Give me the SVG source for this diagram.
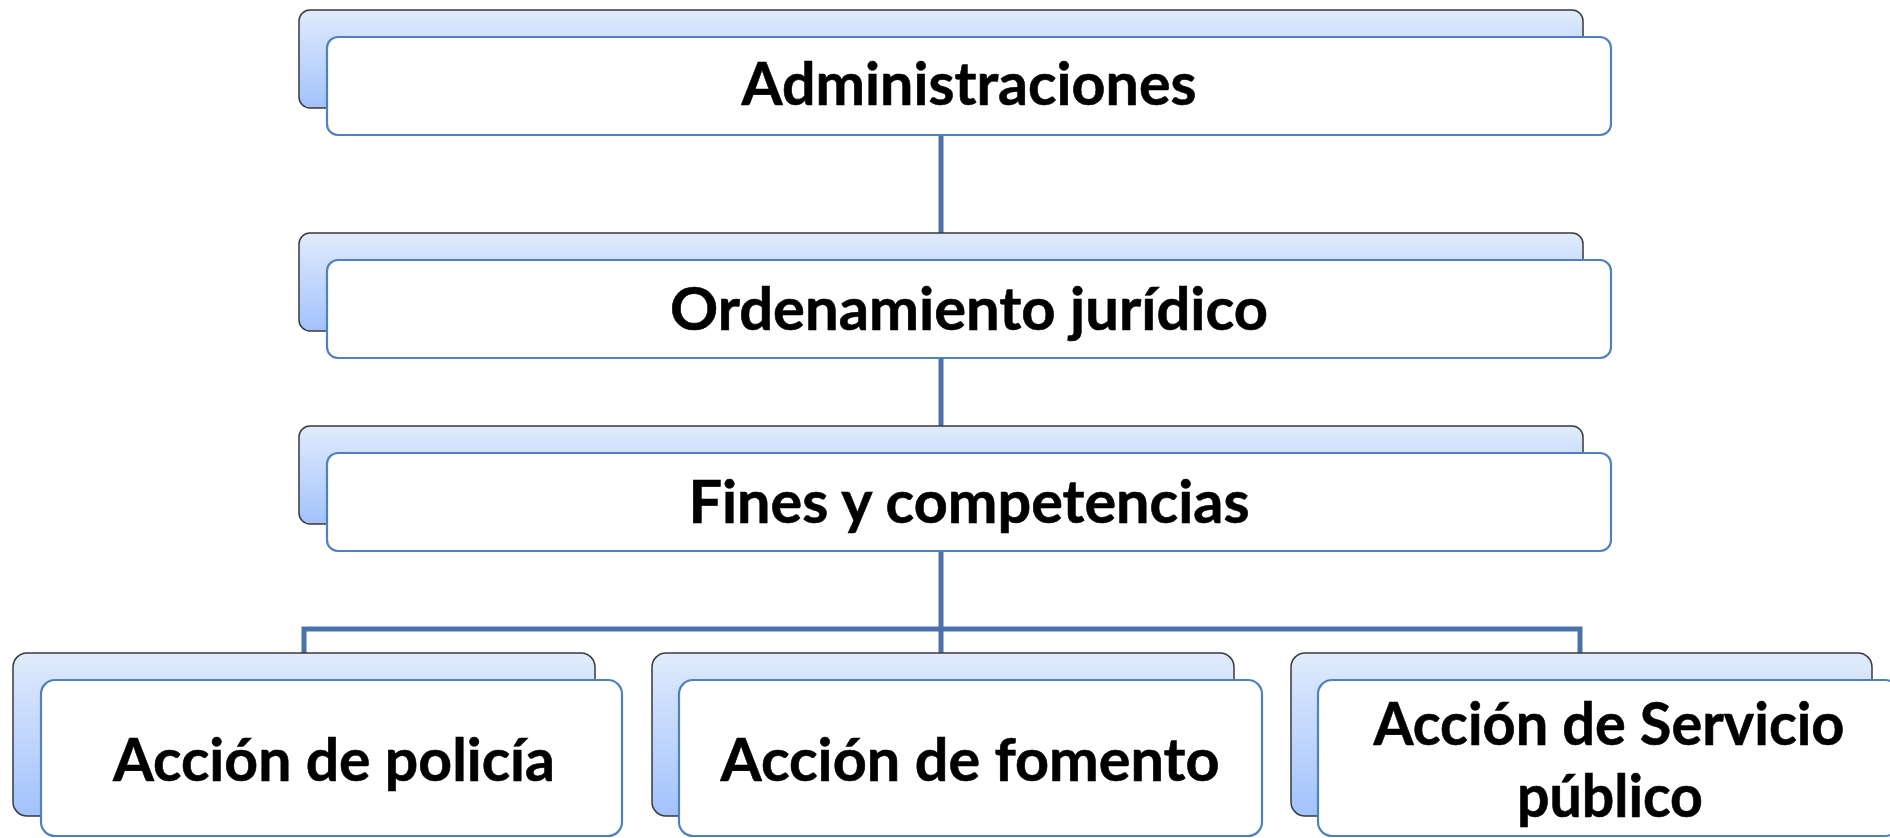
<svg xmlns="http://www.w3.org/2000/svg" width="1890" height="838" viewBox="0 0 1890 838">
<defs>
<linearGradient id="bg" x1="0" y1="0" x2="0" y2="1">
<stop offset="0" stop-color="#e0ebfc"/>
<stop offset="1" stop-color="#a2c2fc"/>
</linearGradient>
<style>
.back{fill:url(#bg);stroke:#3a3a3a;stroke-width:1.5}
.front{fill:#ffffff;stroke:#4f81bd;stroke-width:2.2}
.conn{fill:none;stroke:#4a71a9;stroke-width:5;stroke-linejoin:miter;stroke-linecap:butt}
.t{font-family:Lato,"Open Sans","Liberation Sans",sans-serif;font-weight:bold;font-size:59px;fill:#000;text-anchor:middle;stroke:#000;stroke-width:0.6}
</style>
</defs>
<rect width="1890" height="838" fill="#ffffff"/>
<g id="connectors">
<path class="conn" d="M941,135 V233"/>
<path class="conn" d="M941,358 V426"/>
<path class="conn" d="M941,551 V653"/>
<path class="conn" d="M304,653 V629 H1580 V653"/>
</g>
<g id="n1">
<rect class="back" x="299" y="10" width="1284" height="98" rx="11"/>
<rect class="front" x="327" y="37" width="1284" height="98" rx="11"/>
<text class="t" x="969" y="105" textLength="455" lengthAdjust="spacingAndGlyphs">Administraciones</text>
</g>
<g id="n2">
<rect class="back" x="299" y="233" width="1284" height="98" rx="11"/>
<rect class="front" x="327" y="260" width="1284" height="98" rx="11"/>
<text class="t" x="969" y="330" textLength="598" lengthAdjust="spacingAndGlyphs">Ordenamiento jurídico</text>
</g>
<g id="n3">
<rect class="back" x="299" y="426" width="1284" height="98" rx="11"/>
<rect class="front" x="327" y="453" width="1284" height="98" rx="11"/>
<text class="t" x="969" y="523" textLength="561" lengthAdjust="spacingAndGlyphs">Fines y competencias</text>
</g>
<g id="n4">
<rect class="back" x="13" y="653" width="582" height="163" rx="14"/>
<rect class="front" x="41" y="680" width="581" height="156" rx="14"/>
<text class="t" x="334" y="781" textLength="442" lengthAdjust="spacingAndGlyphs">Acción de policía</text>
</g>
<g id="n5">
<rect class="back" x="652" y="653" width="582" height="163" rx="14"/>
<rect class="front" x="679" y="680" width="583" height="156" rx="14"/>
<text class="t" x="970" y="781" textLength="499" lengthAdjust="spacingAndGlyphs">Acción de fomento</text>
</g>
<g id="n6">
<rect class="back" x="1291" y="653" width="581" height="163" rx="14"/>
<rect class="front" x="1318" y="680" width="581" height="156" rx="14"/>
<text class="t" x="1609" y="745" textLength="471" lengthAdjust="spacingAndGlyphs">Acción de Servicio</text>
<text class="t" x="1610" y="817" textLength="186" lengthAdjust="spacingAndGlyphs">público</text>
</g>
</svg>
